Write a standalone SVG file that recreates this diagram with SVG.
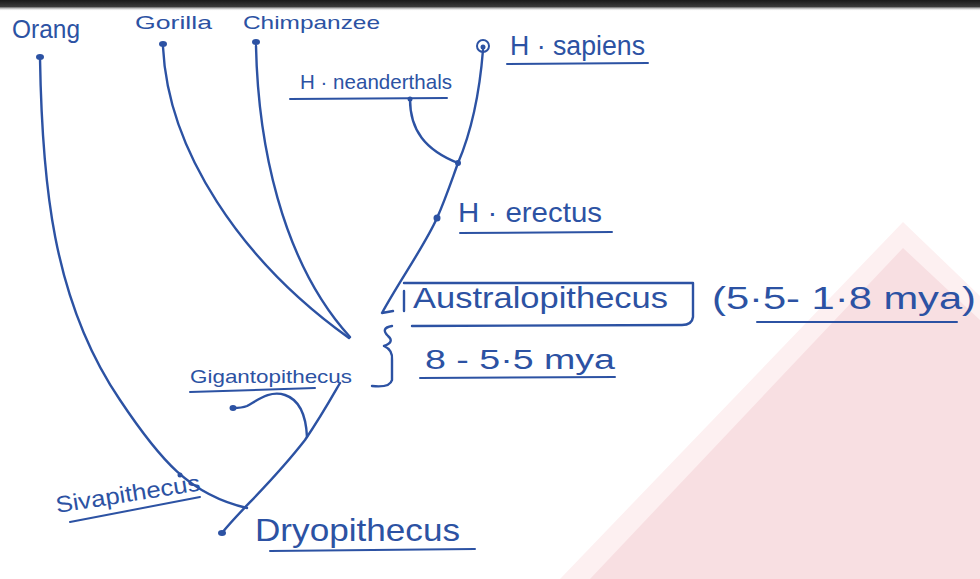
<svg xmlns="http://www.w3.org/2000/svg" width="980" height="579" viewBox="0 0 980 579">
<defs>
<linearGradient id="topband" x1="0" y1="0" x2="0" y2="1">
<stop offset="0" stop-color="#1a1a1a"/>
<stop offset="0.6" stop-color="#3a3a3a"/>
<stop offset="1" stop-color="#ffffff" stop-opacity="0"/>
</linearGradient>
<style>
.ln{fill:none;stroke:#2c52a3;stroke-width:2.4;stroke-linecap:round;stroke-linejoin:round}
.ul{fill:none;stroke:#2c52a3;stroke-width:2;stroke-linecap:round}
.dot{fill:#2c52a3}
.t{fill:#2c52a3;font-family:"Liberation Sans","DejaVu Sans",sans-serif}
</style>
</defs>
<rect width="980" height="579" fill="#ffffff"/>
<rect x="0" y="0" width="980" height="11" fill="url(#topband)"/>
<g id="watermark">
<polygon points="560,579 903,222 980,296 980,579" fill="#fdf0f1"/>
<polygon points="590,579 903,248 980,320 980,579" fill="#f8dfe2"/>
</g>
<g id="connectors">
<path class="ln" d="M40,58 C42,180 52,300 120,400 C160,460 190,495 247,508"/>
<path class="ln" d="M163,47 C168,150 240,260 349,338"/>
<path class="ln" d="M256,46 C258,140 280,260 350,337"/>
<path class="ln" d="M222,533 C240,510 270,485 305,440 C322,415 333,395 340,383"/>
<path class="ln" d="M307,437 C306,415 300,400 285,395 C270,390 258,400 247,406 C242,408 237,408 233,408"/>
<path class="ln" d="M483,50 C479,100 470,135 458,163 C450,185 445,200 437,218 C425,245 400,280 382,313 L393,311"/>
<path class="ln" d="M410,99 C410,130 425,150 458,163"/>
<path class="ln" d="M392,326 Q380,328 388,336 Q395,342 384,346 Q393,350 392,360 L392,380 Q390,388 372,386"/>
<path class="ln" d="M404,291 L404,311"/>
<path class="ln" d="M404,283 L693,283 L693,317 Q692,325 682,325 L412,326"/>
</g>
<g id="node-orang">
<ellipse class="dot" cx="40" cy="57" rx="4" ry="3"/>
<text class="t" x="12" y="38" font-size="25" textLength="68" lengthAdjust="spacingAndGlyphs">Orang</text>
</g>
<g id="node-gorilla">
<ellipse class="dot" cx="163" cy="44" rx="4" ry="3"/>
<text class="t" x="135" y="29" font-size="19" textLength="77" lengthAdjust="spacingAndGlyphs">Gorilla</text>
</g>
<g id="node-chimpanzee">
<ellipse class="dot" cx="256" cy="42" rx="4" ry="3"/>
<text class="t" x="243" y="29" font-size="19" textLength="137" lengthAdjust="spacingAndGlyphs">Chimpanzee</text>
</g>
<g id="node-sapiens">
<circle cx="483" cy="46" r="6" fill="none" stroke="#2c52a3" stroke-width="2"/>
<circle class="dot" cx="483" cy="47" r="2.5"/>
<text class="t" x="510" y="55" font-size="27" textLength="135" lengthAdjust="spacingAndGlyphs">H · sapiens</text>
<line class="ul" x1="507" y1="64" x2="648" y2="63"/>
</g>
<g id="node-neanderthals">
<text class="t" x="300" y="89" font-size="21" textLength="152" lengthAdjust="spacingAndGlyphs">H · neanderthals</text>
<line class="ul" x1="290" y1="99" x2="447" y2="98"/>
<circle class="dot" cx="410" cy="99" r="2.5"/>
</g>
<g id="node-erectus">
<circle class="dot" cx="458" cy="163" r="3"/>
<circle class="dot" cx="437" cy="218" r="3.5"/>
<text class="t" x="458" y="222" font-size="28" textLength="144" lengthAdjust="spacingAndGlyphs">H · erectus</text>
<line class="ul" x1="460" y1="233" x2="612" y2="232"/>
</g>
<g id="node-australopithecus">
<text class="t" x="413" y="308" font-size="30" textLength="255" lengthAdjust="spacingAndGlyphs">Australopithecus</text>
<text class="t" x="712" y="309" font-size="31" textLength="264" lengthAdjust="spacingAndGlyphs">(5·5- 1·8 mya)</text>
<line class="ul" x1="757" y1="322" x2="957" y2="322"/>
</g>
<g id="node-split">
<text class="t" x="425" y="369" font-size="27" textLength="190" lengthAdjust="spacingAndGlyphs">8 - 5·5 mya</text>
<line class="ul" x1="420" y1="378" x2="615" y2="377"/>
</g>
<g id="node-gigantopithecus">
<ellipse class="dot" cx="233" cy="408" rx="3.5" ry="3"/>
<text class="t" x="190" y="383" font-size="19" textLength="162" lengthAdjust="spacingAndGlyphs">Gigantopithecus</text>
<line class="ul" x1="190" y1="392" x2="315" y2="388"/>
</g>
<g id="node-sivapithecus">
<circle class="dot" cx="180" cy="475" r="2.5"/>
<text class="t" x="0" y="0" font-size="23" textLength="146" lengthAdjust="spacingAndGlyphs" transform="translate(57,513) rotate(-9)">Sivapithecus</text>
<line class="ul" x1="70" y1="522" x2="200" y2="497"/>
</g>
<g id="node-dryopithecus">
<ellipse class="dot" cx="222" cy="533" rx="4" ry="3"/>
<text class="t" x="255" y="541" font-size="32" textLength="205" lengthAdjust="spacingAndGlyphs">Dryopithecus</text>
<line class="ul" x1="270" y1="551" x2="475" y2="549"/>
</g>
</svg>
